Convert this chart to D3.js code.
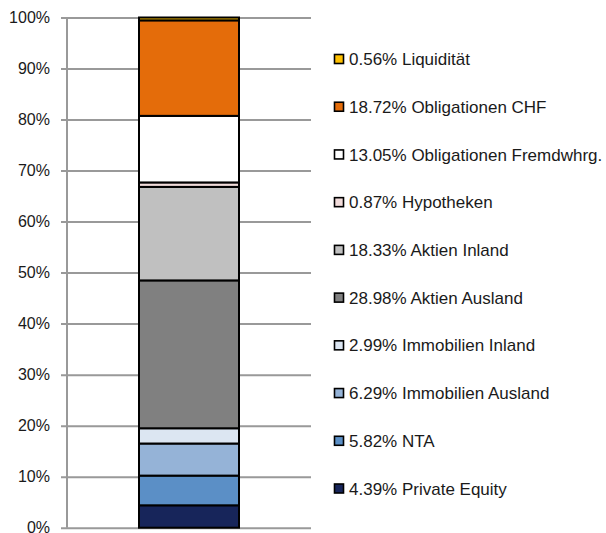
<!DOCTYPE html>
<html>
<head>
<meta charset="utf-8">
<script src="https://cdn.jsdelivr.net/npm/d3@7"></script>
<style>
html, body { margin: 0; padding: 0; background: #fff; }
svg { display: block; font-family: "Liberation Sans", Arial, sans-serif; }
</style>
</head>
<body>
<svg id="chart" width="606" height="533"></svg>
<script>
// Data (bottom to top of the stacked bar)
const categories = ["Private Equity", "NTA", "Immobilien Ausland", "Immobilien Inland",
  "Aktien Ausland", "Aktien Inland", "Hypotheken", "Obligationen Fremdwhrg.",
  "Obligationen CHF", "Liquidität"];
const values = [4.39, 5.82, 6.29, 2.99, 28.98, 18.33, 0.87, 13.05, 18.72, 0.56];
const colors = ["#17255a", "#5b8fc6", "#95b3d7", "#dce6f2", "#808080",
  "#c0c0c0", "#f2dcdb", "#ffffff", "#e46c0a", "#ffc000"];
const yTicks = [0, 0.1, 0.2, 0.3, 0.4, 0.5, 0.6, 0.7, 0.8, 0.9, 1.0];
const barName = ["Portfolio"];

const svg = d3.select("#chart");

const plotLeft = 67, plotRight = 311, plotTop = 17.5, plotBottom = 527.7;

const y = d3.scaleLinear().domain([0, 1]).range([plotBottom, plotTop]);
const x = d3.scaleBand().domain(barName).range([plotLeft, plotRight])
  .paddingInner(0).paddingOuter(0.72);

// stack data
const row = {};
categories.forEach((c, i) => row[c] = values[i] / 100);
const stack = d3.stack().keys(categories)([row]);

// gridlines + tick labels
const axis = d3.axisLeft(y).tickValues(yTicks).tickFormat(d3.format(".0%"))
  .tickSize(plotRight - 61).tickPadding(11);
const gAxis = svg.append("g").attr("transform", `translate(${plotRight},0)`).call(axis);
gAxis.select(".domain").remove();
gAxis.selectAll(".tick line").attr("stroke", "#999").attr("stroke-width", 2);
gAxis.selectAll(".tick text").attr("fill", "#1a1a1a").style("font-size", "16px")
  .style("font-family", "'Liberation Sans', Arial, sans-serif");

// vertical axis line
svg.append("line")
  .attr("x1", plotLeft).attr("x2", plotLeft)
  .attr("y1", y(1)).attr("y2", y(0))
  .attr("stroke", "#999").attr("stroke-width", 2);

// bars
svg.append("g").selectAll("rect").data(stack).join("rect")
  .attr("x", x("Portfolio"))
  .attr("width", x.bandwidth())
  .attr("y", d => y(d[0][1]))
  .attr("height", d => y(d[0][0]) - y(d[0][1]))
  .attr("fill", (d, i) => colors[i])
  .attr("stroke", "#000")
  .attr("stroke-width", 2);

// legend (top to bottom reverse of stack)
const legendIdx = d3.range(categories.length).reverse();
const ly = d3.scalePoint().domain(legendIdx.map(String)).range([59, 488.5]);
const lg = svg.append("g").selectAll("g").data(legendIdx).join("g")
  .attr("transform", i => `translate(334,${ly(String(i))})`);
lg.append("rect")
  .attr("x", 0.5).attr("y", -4.5).attr("width", 9).attr("height", 9)
  .attr("fill", i => colors[i]).attr("stroke", "#000").attr("stroke-width", 1.6);
lg.append("text")
  .attr("x", 15).attr("y", 0).attr("dy", "0.36em")
  .style("font-size", "17px").attr("fill", "#1a1a1a")
  .text(i => d3.format(".2f")(values[i]) + "% " + categories[i]);
</script>
</body>
</html>
